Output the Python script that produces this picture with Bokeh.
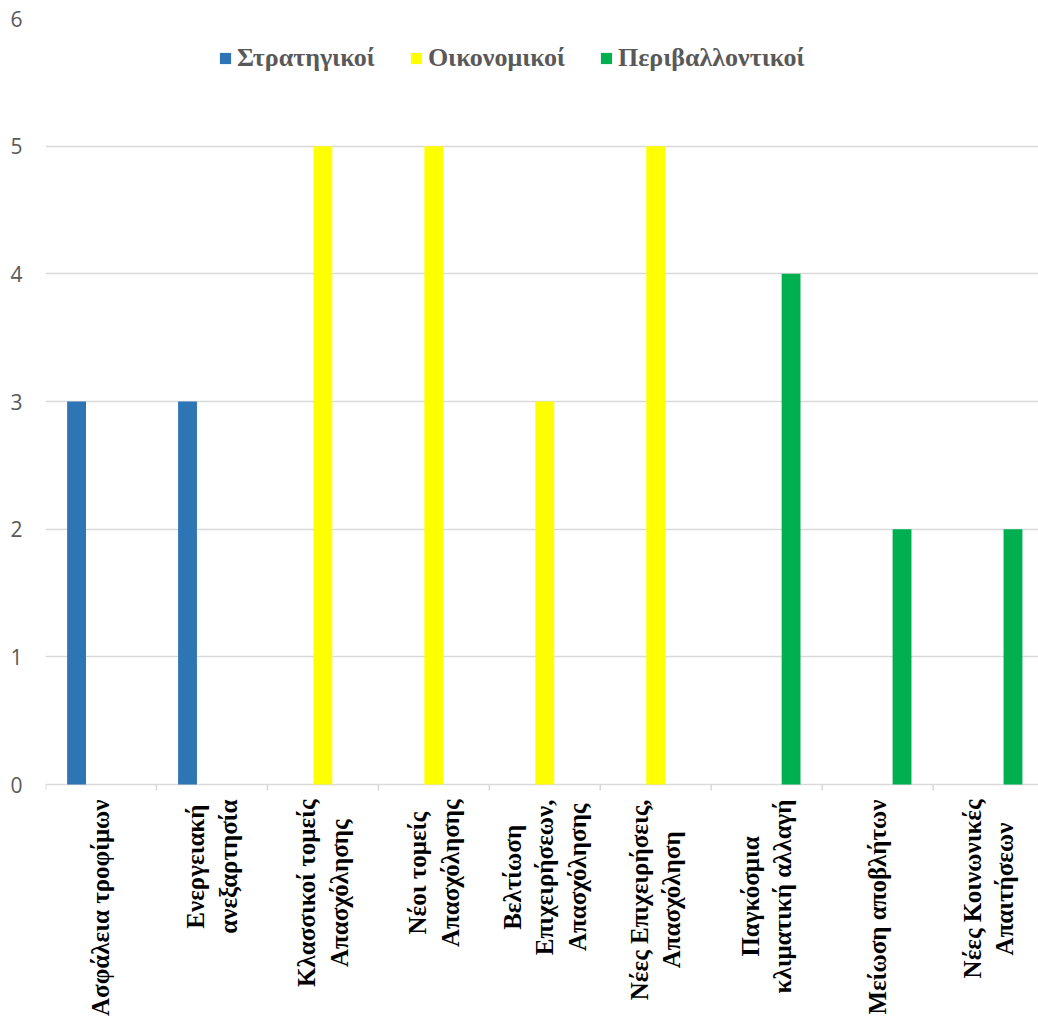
from bokeh.plotting import figure
from bokeh.models import (ColumnDataSource, Range1d, FixedTicker, Legend, LegendItem, Label)
from bokeh.transform import dodge
from bokeh.embed import file_html
from bokeh.resources import INLINE
import math

categories = [
    "Ασφάλεια τροφίμων",
    "Ενεργειακή\nανεξαρτησία",
    "Κλασσικοί τομείς\nΑπασχόλησης",
    "Νέοι τομείς\nΑπασχόλησης",
    "Βελτίωση\nΕπιχειρήσεων,\nΑπασχόλησης",
    "Νέες Επιχειρήσεις,\nΑπασχόληση",
    "Παγκόσμια\nκλιματική αλλαγή",
    "Μείωση αποβλήτων",
    "Νέες Κοινωνικές\nΑπαιτήσεων",
]
series_names = ["Στρατηγικοί", "Οικονομικοί", "Περιβαλλοντικοί"]
strategic = [3, 3, 0, 0, 0, 0, 0, 0, 0]
economic = [0, 0, 5, 5, 3, 5, 0, 0, 0]
environmental = [0, 0, 0, 0, 0, 0, 4, 2, 2]
y_ticks = [0, 1, 2, 3, 4, 5, 6]

colors = ["#2E75B6", "#FFFF00", "#00B050"]
offsets = [-0.22, 0.0, 0.22]

centers = [i + 0.5 for i in range(len(categories))]
boundaries = list(range(len(categories) + 1))
source = ColumnDataSource(dict(
    x=centers,
    strategic=strategic,
    economic=economic,
    environmental=environmental,
))

# the frame reaches the bottom of the canvas so the category names fit below zero
PX_PER_UNIT = (1030 - 18 - 246) / 6
y_low = -246 / PX_PER_UNIT
TICK_LEN = 6 / PX_PER_UNIT

p = figure(
    width=1038, height=1030,
    x_range=Range1d(0, 8.95), y_range=Range1d(y_low, 6),
    output_backend="svg", toolbar_location=None,
    min_border_left=45, min_border_right=0,
    min_border_top=18, min_border_bottom=0,
)
p.outline_line_color = None
p.background_fill_color = "white"
p.border_fill_color = "white"
p.xaxis.visible = False
p.xgrid.grid_line_color = None

renderers = []
for name, col, color, off in zip(series_names,
                                  ["strategic", "economic", "environmental"],
                                  colors, offsets):
    r = p.vbar(x=dodge("x", off, range=p.x_range), top=col, bottom=0,
               width=0.17, source=source, fill_color=color, line_color=None)
    renderers.append(r)

# category tick marks on the boundaries, just below the zero line
p.segment(x0=boundaries, y0=[0] * len(boundaries),
          x1=boundaries, y1=[-TICK_LEN] * len(boundaries),
          line_color="#D9D9D9", line_width=1.5)

# vertical category names, lines centred on each other, block ending near the axis
for c, lab in zip(centers, categories):
    p.add_layout(Label(
        x=c, y=0, y_offset=-15,
        text=lab, angle=math.pi / 2,
        anchor="center_right",
        text_align="center", text_baseline="middle",
        text_font="Liberation Serif", text_font_style="bold",
        text_font_size="25px", text_color="black",
    ))

yax = p.yaxis[0]
yax.ticker = FixedTicker(ticks=y_ticks)
yax.axis_line_color = None
yax.major_tick_line_color = None
yax.minor_tick_line_color = None
yax.major_tick_out = 0
yax.major_label_standoff = 23
yax.major_label_text_font = "Open Sans"
yax.major_label_text_font_size = "21px"
yax.major_label_text_color = "#595959"

p.ygrid.ticker = FixedTicker(ticks=y_ticks)
p.ygrid.grid_line_color = "#D9D9D9"
p.ygrid.grid_line_width = 1.5

legend = Legend(
    items=[LegendItem(label=n, renderers=[r]) for n, r in zip(series_names, renderers)],
    orientation="horizontal",
    location=(173, 957),
    glyph_width=14, glyph_height=14,
    label_standoff=5, spacing=34,
    padding=0, margin=0,
    label_text_font="Liberation Serif",
    label_text_font_style="bold",
    label_text_font_size="26px",
    label_text_color="#595959",
    border_line_color=None,
    background_fill_alpha=0,
)
p.add_layout(legend, "center")

open("out.html", "w").write(file_html(p, INLINE))
